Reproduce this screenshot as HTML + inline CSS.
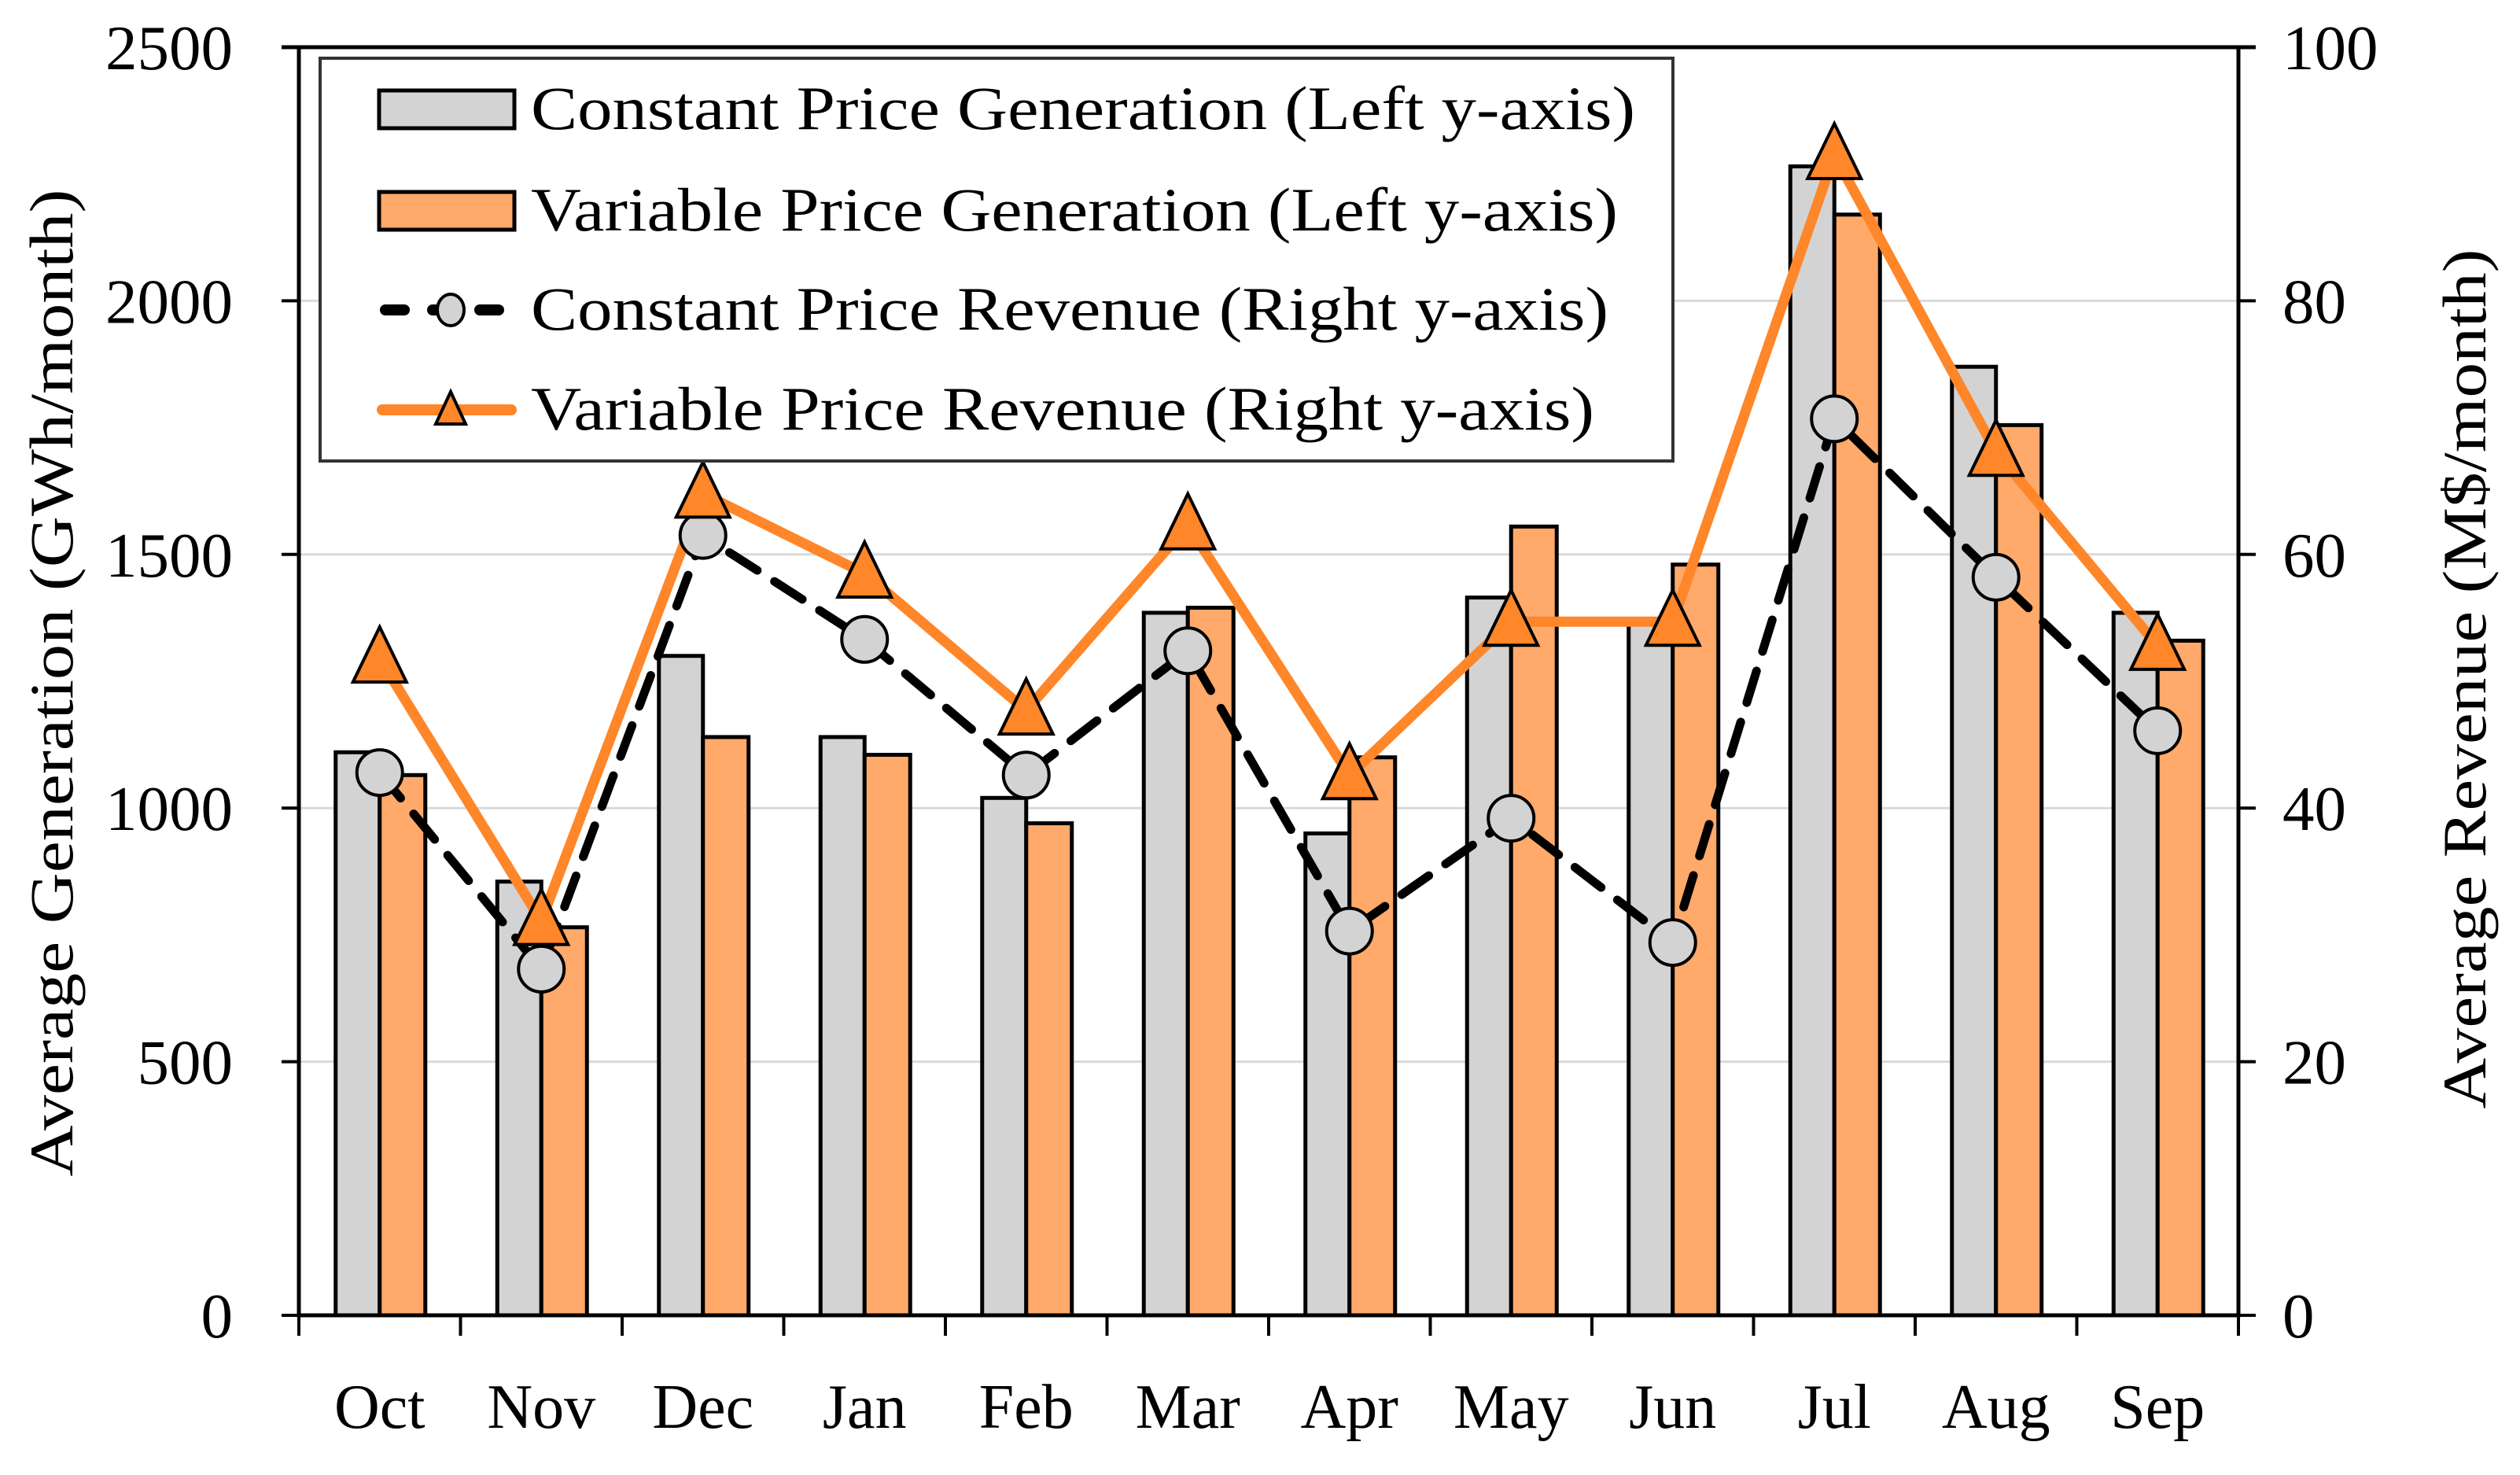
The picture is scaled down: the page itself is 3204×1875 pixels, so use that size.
<!DOCTYPE html>
<html><head><meta charset="utf-8"><style>
html,body{margin:0;padding:0;background:#fff}
svg text{font-family:"Liberation Serif",serif;fill:#000}
</style></head><body>
<svg id="chart" width="3204" height="1870" viewBox="0 0 3204 1870" xmlns="http://www.w3.org/2000/svg">
<g id="grid"></g>
<g id="bars"></g>
<g id="axes"></g>
<g id="lines"></g>
<text transform="translate(92,868) rotate(-90)" text-anchor="middle" font-size="78" textLength="1255" lengthAdjust="spacingAndGlyphs">Average Generation (GWh/month)</text>
<text transform="translate(3160,863) rotate(-90)" text-anchor="middle" font-size="78" textLength="1093" lengthAdjust="spacingAndGlyphs">Average Revenue (M$/month)</text>
<g>
<rect x="407" y="74" width="1720" height="512" fill="#fff" stroke="#333" stroke-width="4"/>
<g>
<rect x="482" y="115" width="172" height="48" fill="#d3d3d3" stroke="#000" stroke-width="5"/>
<text x="675" y="164" font-size="78" textLength="1404" lengthAdjust="spacingAndGlyphs">Constant Price Generation (Left y-axis)</text></g>
<g>
<rect x="482" y="244" width="172" height="48" fill="#ffa96a" stroke="#000" stroke-width="5"/>
<text x="675" y="293" font-size="78" textLength="1382" lengthAdjust="spacingAndGlyphs">Variable Price Generation (Left y-axis)</text></g>
<g>
<line x1="490" y1="394" x2="650" y2="394" stroke="#000" stroke-width="14" stroke-linecap="round" stroke-dasharray="24,36"/>
<ellipse cx="573" cy="394" rx="17" ry="20" fill="#d3d3d3" stroke="#000" stroke-width="4"/>
<text x="675" y="419" font-size="78" textLength="1370" lengthAdjust="spacingAndGlyphs">Constant Price Revenue (Right y-axis)</text></g>
<g>
<line x1="486" y1="521" x2="650" y2="521" stroke="#ff8629" stroke-width="14" stroke-linecap="round"/>
<polygon points="573,498 592,539 554,539" fill="#ff8629" stroke="#000" stroke-width="4"/>
<text x="675" y="546" font-size="78" textLength="1352" lengthAdjust="spacingAndGlyphs">Variable Price Revenue (Right y-axis)</text></g>
</g>
</svg>
<script>
const months = ["Oct","Nov","Dec","Jan","Feb","Mar","Apr","May","Jun","Jul","Aug","Sep"];
const constGen = [1110,855,1300,1140,1020,1385,950,1415,1370,2265,1870,1385];
const varGen = [1065,765,1140,1105,970,1395,1100,1555,1480,2170,1755,1330];
const constRev = [42.8,27.3,61.5,53.3,42.6,52.4,30.3,39.2,29.4,70.7,58.2,46.1];
const varRev = [51.8,31.1,64.8,58.5,47.7,62.3,42.6,54.7,54.7,91.5,68.1,52.8];
const leftTicks = [0,500,1000,1500,2000,2500];
const rightTicks = [0,20,40,60,80,100];

const NS="http://www.w3.org/2000/svg";
const X0=380,X1=2846,Y0=1672,YT=60;
const bw=(X1-X0)/months.length;
const xc=i=>X0+bw*(i+0.5);
const yL=v=>Y0-(v/2500)*(Y0-YT);
const yR=v=>Y0-(v/100)*(Y0-YT);
function mk(tag,attrs,parent){const e=document.createElementNS(NS,tag);for(const k in attrs)e.setAttribute(k,attrs[k]);parent.appendChild(e);return e;}
const grid=document.getElementById('grid'),bars=document.getElementById('bars'),axes=document.getElementById('axes'),lines=document.getElementById('lines');

leftTicks.forEach((t,i)=>{
  if(t>0&&t<2500){const g=mk('line',{x1:X0,x2:X1,y1:yL(t),y2:yL(t),stroke:'#d9d9d9','stroke-width':3},grid);
  
  }
  const tk=mk('line',{x1:X0-22,x2:X0,y1:yL(t),y2:yL(t),stroke:'#000','stroke-width':4},axes);
  
  
  const tx=mk('text',{x:296,y:yL(t)+28,'text-anchor':'end','font-size':81},axes);
  tx.textContent=t;
  
  
});
rightTicks.forEach(t=>{
  const tk=mk('line',{x1:X1,x2:X1+22,y1:yR(t),y2:yR(t),stroke:'#000','stroke-width':4},axes);
  
  
  const tx=mk('text',{x:2902,y:yR(t)+28,'text-anchor':'start','font-size':81},axes);
  tx.textContent=t;
  
  
});
months.forEach((m,i)=>{
  const c=xc(i);
  const b1=mk('rect',{x:c-56,y:yL(constGen[i]),width:56,height:Y0-yL(constGen[i]),fill:'#d3d3d3',stroke:'#000','stroke-width':5},bars);
  
  
  const b2=mk('rect',{x:c,y:yL(varGen[i]),width:58,height:Y0-yL(varGen[i]),fill:'#ffa96a',stroke:'#000','stroke-width':5},bars);
  
  
  const tx=mk('text',{x:c,y:1815,'text-anchor':'middle','font-size':80},axes);
  tx.textContent=m;
  
  
});
for(let i=0;i<=months.length;i++){
  const x=X0+bw*i;
  const tk=mk('line',{x1:x,x2:x,y1:Y0,y2:Y0+26,stroke:'#000','stroke-width':4},axes);
  
  
}
const ax=mk('path',{d:`M${X0},${YT} L${X0},${Y0} L${X1},${Y0} L${X1},${YT} M${X0-22},${YT} L${X1+22},${YT}`,fill:'none',stroke:'#000','stroke-width':5},axes);



const pc=constRev.map((v,i)=>`${xc(i)},${yR(v)}`).join(' ');
const l1=mk('polyline',{points:pc,fill:'none',stroke:'#000','stroke-width':11,'stroke-dasharray':'42,26','stroke-linecap':'round'},lines);


const pv=varRev.map((v,i)=>`${xc(i)},${yR(v)}`).join(' ');
const l2=mk('polyline',{points:pv,fill:'none',stroke:'#ff8629','stroke-width':13,'stroke-linejoin':'round'},lines);


constRev.forEach((v,i)=>{
  const c=mk('circle',{cx:xc(i),cy:yR(v),r:29,fill:'#d3d3d3',stroke:'#000','stroke-width':4},lines);
  
  
});
varRev.forEach((v,i)=>{
  const x=xc(i),y=yR(v);
  const p=mk('polygon',{points:`${x},${y-40} ${x+34},${y+30} ${x-34},${y+30}`,fill:'#ff8629',stroke:'#000','stroke-width':4},lines);
  
  
});
</script>
</body></html>
